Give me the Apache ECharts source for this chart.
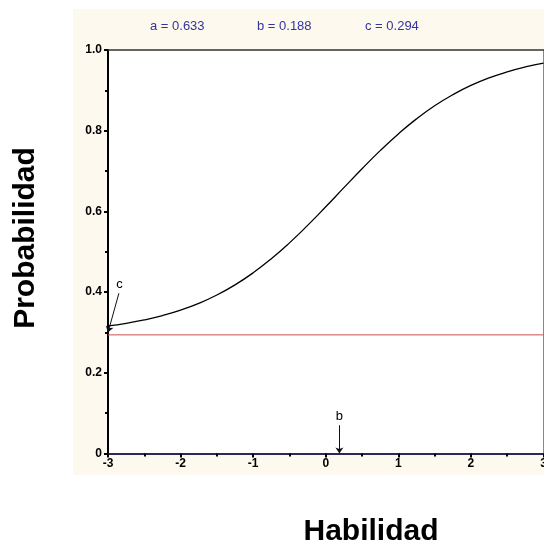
<!DOCTYPE html>
<html>
<head>
<meta charset="utf-8">
<script src="https://cdn.jsdelivr.net/npm/echarts@6/dist/echarts.min.js"></script>
<style>
html,body{margin:0;padding:0;background:#fff;}
#main{width:544px;height:546px;}
</style>
</head>
<body>
<div id="main"></div>
<script>
// Item parameters (3PL)
var paramNames = ['a', 'b', 'c'];
var paramValues = [0.633, 0.188, 0.294];

// Ability values (x) and probabilities
var theta = [-3, -2.75, -2.5, -2.25, -2, -1.75, -1.5, -1.25, -1, -0.75, -0.5, -0.25, 0,
             0.25, 0.5, 0.75, 1, 1.25, 1.5, 1.75, 2, 2.25, 2.5, 2.75, 3];
var prob = [0.3161, 0.3227, 0.3311, 0.3418, 0.3552, 0.3720, 0.3927, 0.4179, 0.4478, 0.4826, 0.5220, 0.5653, 0.6114,
            0.6588, 0.7057, 0.7506, 0.7921, 0.8293, 0.8617, 0.8892, 0.9122, 0.9308, 0.9458, 0.9579, 0.9673];

// Axis tick labels
var xTickLabels = ['-3', '-2', '-1', '0', '1', '2', '3'];
var yTickLabels = ['0', '0.2', '0.4', '0.6', '0.8', '1.0'];

var bVal = paramValues[1];
var cVal = paramValues[2];

var curve = theta.map(function (t, i) { return [t, prob[i]]; });
var asymptote = [[-3, cVal], [3, cVal]];

var chart = echarts.init(document.getElementById('main'), null, {renderer: 'canvas'});

var FONT = 'Arial, "Liberation Sans", sans-serif';
var paramColor = '#34349a';

var option = {
  animation: false,
  backgroundColor: '#ffffff',
  graphic: [
    {type: 'rect', z: -10, silent: true, shape: {x: 73, y: 9, width: 471, height: 466}, style: {fill: '#fdf9ef'}},
    {type: 'text', left: 150, top: 20, style: {text: paramNames[0] + ' = ' + paramValues[0].toFixed(3), fill: paramColor, font: '13px ' + FONT}},
    {type: 'text', left: 257, top: 20, style: {text: paramNames[1] + ' = ' + paramValues[1].toFixed(3), fill: paramColor, font: '13px ' + FONT}},
    {type: 'text', left: 365, top: 20, style: {text: paramNames[2] + ' = ' + paramValues[2].toFixed(3), fill: paramColor, font: '13px ' + FONT}},
    {type: 'text', x: 26, y: 238, rotation: Math.PI / 2,
     style: {text: 'Probabilidad', fill: '#000', font: 'bold 30px ' + FONT, align: 'center', verticalAlign: 'middle'}},
    {type: 'text', x: 371, y: 532,
     style: {text: 'Habilidad', fill: '#000', font: 'bold 30px ' + FONT, align: 'center', verticalAlign: 'middle'}}
  ],
  grid: {left: 108, top: 50, width: 435.5, height: 403.5, show: true, backgroundColor: '#ffffff', borderWidth: 0,
         containLabel: false, outerBoundsMode: 'none'},
  xAxis: [{
    type: 'value', min: -3, max: 3, interval: 1, position: 'bottom',
    axisLine: {show: true, onZero: false, lineStyle: {color: '#2c2858', width: 2}},
    axisTick: {show: true, length: 4, inside: false, lineStyle: {color: '#000', width: 2}},
    minorTick: {show: true, splitNumber: 2, length: 3, lineStyle: {color: '#000', width: 2}},
    splitLine: {show: false},
    axisLabel: {margin: 4, color: '#000', fontWeight: 'bold', fontSize: 12, fontFamily: FONT,
      formatter: function (v) { var i = Math.round(v + 3); return xTickLabels[i] !== undefined ? xTickLabels[i] : ''; }}
  }, {
    type: 'value', min: -3, max: 3, position: 'top',
    axisLine: {show: true, onZero: false, lineStyle: {color: '#333', width: 1.5}},
    axisTick: {show: false}, axisLabel: {show: false}, splitLine: {show: false}
  }],
  yAxis: [{
    type: 'value', min: 0, max: 1, interval: 0.2, position: 'left',
    axisLine: {show: true, onZero: false, lineStyle: {color: '#000', width: 2}},
    axisTick: {show: true, length: 4, lineStyle: {color: '#000', width: 2}},
    minorTick: {show: true, splitNumber: 2, length: 3, lineStyle: {color: '#000', width: 2}},
    splitLine: {show: false},
    axisLabel: {margin: 6, color: '#000', fontWeight: 'bold', fontSize: 12, fontFamily: FONT,
      formatter: function (v) { var i = Math.round(v * 5); return yTickLabels[i] !== undefined ? yTickLabels[i] : ''; }}
  }, {
    type: 'value', min: 0, max: 1, position: 'right',
    axisLine: {show: true, onZero: false, lineStyle: {color: '#888', width: 1}},
    axisTick: {show: false}, axisLabel: {show: false}, splitLine: {show: false}
  }],
  series: [{
    type: 'line', data: asymptote, showSymbol: false, symbol: 'none', z: 3,
    itemStyle: {color: '#c85050'},
    lineStyle: {color: '#c85050', width: 1}
  }, {
    type: 'line', data: curve, smooth: true, showSymbol: false, symbol: 'none',
    lineStyle: {color: '#000', width: 1.3}, z: 5
  }, {
    type: 'line', data: [], z: 6,
    markLine: {
      silent: true, animation: false, symbol: ['none', 'arrow'], symbolSize: 6,
      lineStyle: {color: '#111', width: 1, type: 'solid'},
      label: {show: true, position: 'start', color: '#000', fontSize: 13, fontFamily: FONT, distance: 2},
      data: [
        [{coord: [bVal, 0.07], label: {formatter: 'b'}}, {coord: [bVal, 0.0]}],
        [{coord: [-2.85, 0.397], label: {formatter: 'c'}}, {coord: [-3, cVal + 0.006]}]
      ]
    }
  }]
};

chart.setOption(option);
</script>
</body>
</html>
